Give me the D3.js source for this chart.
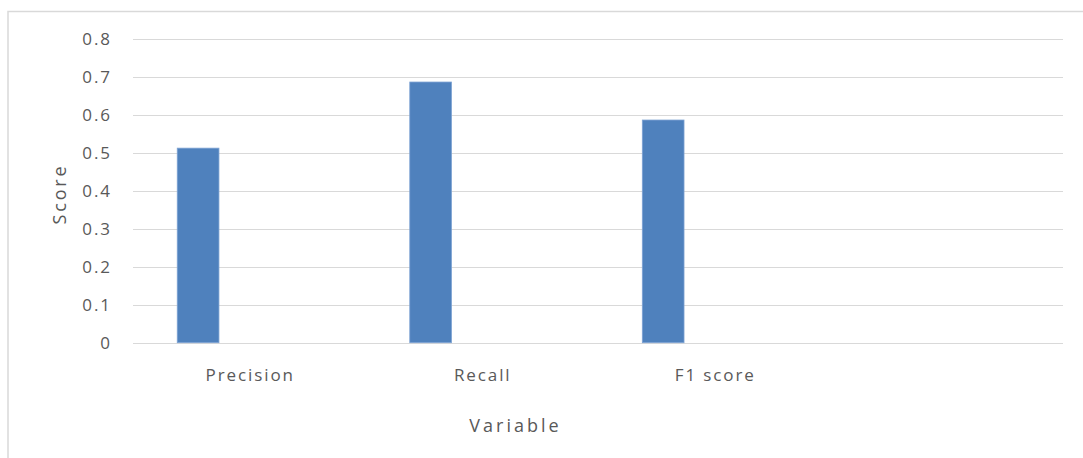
<!DOCTYPE html>
<html>
<head>
<meta charset="utf-8">
<script src="https://cdn.jsdelivr.net/npm/d3@7/dist/d3.min.js"></script>
<style>
  html, body { margin: 0; padding: 0; background: #fff; }
  svg { display: block; }
  text { font-family: "Open Sans", "DejaVu Sans", sans-serif; fill: #595959; }
</style>
</head>
<body>
<svg id="chart" width="1083" height="458"></svg>
<script>
// Categories on the x axis (the last slot is an empty category)
const categories = ["Precision", "Recall", "F1 score", ""];
// Score for each category
const scores = [0.512, 0.686, 0.586, null];
// Y-axis tick values
const yTicks = [0, 0.1, 0.2, 0.3, 0.4, 0.5, 0.6, 0.7, 0.8];

const svg = d3.select("#chart");
const W = 1083, H = 458;
const plot = { left: 133, right: 1063, top: 38.7, bottom: 342.7 };

// chart frame
svg.append("path")
  .attr("d", `M8,${H} L8,11.5 L${W},11.5`)
  .attr("fill", "none")
  .attr("stroke", "#d9d9d9")
  .attr("stroke-width", 1.5);

const y = d3.scaleLinear().domain([0, 0.8]).range([plot.bottom, plot.top]);

// category slots for axis labels
const xCat = d3.scaleBand().domain(categories).range([plot.left, plot.right]).padding(0);
// bar placement within each slot
const xBar = d3.scaleBand().domain(categories).range([plot.left, plot.right])
  .paddingInner(0.8206).paddingOuter(0.41).align(0.232);

// gridlines
svg.append("g").selectAll("line").data(yTicks).join("line")
  .attr("x1", plot.left).attr("x2", plot.right)
  .attr("y1", d => Math.round(y(d)) + 0.5).attr("y2", d => Math.round(y(d)) + 0.5)
  .attr("stroke", "#d9d9d9").attr("stroke-width", 1);

// y tick labels
svg.append("g").selectAll("text").data(yTicks).join("text")
  .attr("x", 110 + 1.9).attr("y", d => y(d))
  .attr("dy", "0.36em")
  .attr("text-anchor", "end")
  .attr("font-size", 17)
  .attr("letter-spacing", 1.9)
  .text(d => d3.format(".1~f")(d));

// bars
svg.append("g").selectAll("rect")
  .data(categories.map((c, i) => ({ c, v: scores[i] })).filter(d => d.v != null))
  .join("rect")
  .attr("x", d => xBar(d.c))
  .attr("width", xBar.bandwidth())
  .attr("y", d => y(d.v))
  .attr("height", d => y(0) - y(d.v))
  .attr("fill", "#4f81bd")
  .attr("stroke", "#7ea3d3")
  .attr("stroke-width", 0.8);

// category labels
svg.append("g").selectAll("text").data(categories).join("text")
  .attr("x", d => xCat(d) + xCat.bandwidth() / 2 + 1)
  .attr("y", 381)
  .attr("text-anchor", "middle")
  .attr("font-size", 17)
  .attr("letter-spacing", 1.9)
  .text(d => d);

// axis titles
svg.append("text")
  .attr("x", 515.5).attr("y", 432)
  .attr("text-anchor", "middle")
  .attr("font-size", 18)
  .attr("letter-spacing", 3)
  .text("Variable");

svg.append("text")
  .attr("transform", "translate(66,194) rotate(-90)")
  .attr("text-anchor", "middle")
  .attr("font-size", 18)
  .attr("letter-spacing", 2.8)
  .text("Score");
</script>
</body>
</html>
